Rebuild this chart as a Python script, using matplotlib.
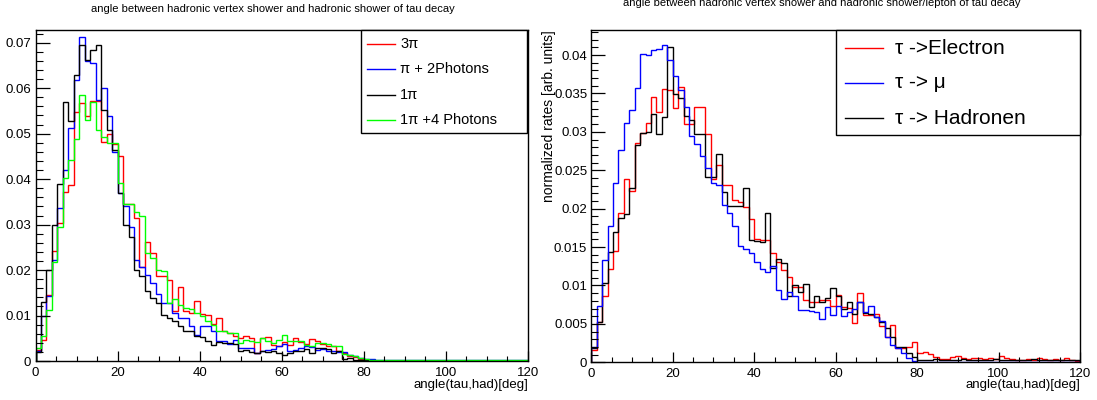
import numpy as np
import matplotlib
matplotlib.use('Agg')
import matplotlib.pyplot as plt
from matplotlib.ticker import MultipleLocator, FuncFormatter
from matplotlib.patches import Rectangle
from matplotlib.lines import Line2D

plt.rcParams['font.family'] = ['Liberation Sans', 'DejaVu Sans']

# ---------------- data ----------------
n_bins = 90
x_lo, x_hi = 0, 120

left_title = 'angle between hadronic vertex shower and hadronic shower of tau decay'
right_title = 'angle between hadronic vertex shower and hadronic shower/lepton of tau decay'
x_label = 'angle(tau,had)[deg]'
right_ylabel = 'normalized rates [arb. units]'

left_labels = ['3π', 'π + 2Photons', '1π', '1π +4 Photons']
left_colors = ['#ff0000', '#0000ff', '#000000', '#00ff00']

left_3pi = [
    0.0024, 0.0046, 0.0145, 0.0242, 0.0304, 0.0371, 0.0386, 0.0548, 0.0568, 0.0539,
    0.0572, 0.0572, 0.0482, 0.0500, 0.0478, 0.0451, 0.0345, 0.0345, 0.0314, 0.0207,
    0.0261, 0.0238, 0.0187, 0.0187, 0.0178, 0.0109, 0.0163, 0.0109, 0.0105, 0.0132,
    0.0103, 0.0101, 0.0081, 0.0094, 0.0067, 0.0061, 0.0054, 0.0050, 0.0054, 0.0050,
    0.0017, 0.0050, 0.0052, 0.0035, 0.0034, 0.0041, 0.0035, 0.0050, 0.0041, 0.0037,
    0.0048, 0.0044, 0.0037, 0.0034, 0.0032, 0.0021, 0.0017, 0.0011, 0.0008, 0.0004,
    0.0002, 0.0002, 0.0001, 0.0001, 0.0001, 0.0001, 0.0001, 0.0001, 0.0001, 0.0001,
    0.0001, 0.0001, 0.0001, 0.0001, 0.0001, 0.0001, 0.0001, 0.0001, 0.0001, 0.0001,
    0.0001, 0.0001, 0.0001, 0.0001, 0.0001, 0.0001, 0.0001, 0.0001, 0.0001, 0.0001]

left_pi_2photons = [
    0.0022, 0.0098, 0.0143, 0.0222, 0.0336, 0.0420, 0.0513, 0.0618, 0.0713, 0.0660,
    0.0656, 0.0574, 0.0600, 0.0539, 0.0459, 0.0369, 0.0340, 0.0295, 0.0222, 0.0206,
    0.0189, 0.0172, 0.0147, 0.0127, 0.0127, 0.0105, 0.0095, 0.0095, 0.0076, 0.0057,
    0.0076, 0.0076, 0.0065, 0.0043, 0.0043, 0.0037, 0.0046, 0.0029, 0.0028, 0.0028,
    0.0017, 0.0023, 0.0024, 0.0026, 0.0033, 0.0037, 0.0021, 0.0024, 0.0028, 0.0032,
    0.0030, 0.0024, 0.0026, 0.0023, 0.0021, 0.0019, 0.0019, 0.0013, 0.0010, 0.0006,
    0.0004, 0.0004, 0.0003, 0.0003, 0.0003, 0.0003, 0.0003, 0.0003, 0.0003, 0.0003,
    0.0003, 0.0003, 0.0003, 0.0003, 0.0003, 0.0003, 0.0003, 0.0003, 0.0003, 0.0003,
    0.0003, 0.0003, 0.0003, 0.0003, 0.0003, 0.0003, 0.0003, 0.0003, 0.0003, 0.0003]

left_1pi = [
    0.0020, 0.0130, 0.0200, 0.0300, 0.0390, 0.0569, 0.0528, 0.0630, 0.0696, 0.0662,
    0.0684, 0.0696, 0.0552, 0.0508, 0.0464, 0.0369, 0.0300, 0.0273, 0.0200, 0.0188,
    0.0155, 0.0138, 0.0127, 0.0101, 0.0095, 0.0087, 0.0076, 0.0065, 0.0065, 0.0054,
    0.0052, 0.0045, 0.0035, 0.0041, 0.0040, 0.0039, 0.0037, 0.0023, 0.0024, 0.0019,
    0.0017, 0.0021, 0.0019, 0.0021, 0.0018, 0.0013, 0.0018, 0.0021, 0.0022, 0.0026,
    0.0017, 0.0028, 0.0029, 0.0026, 0.0017, 0.0021, 0.0004, 0.0006, 0.0003, 0.0003,
    0.0002, 0.0001, 0.0001, 0.0001, 0.0001, 0.0001, 0.0001, 0.0001, 0.0001, 0.0001,
    0.0001, 0.0001, 0.0001, 0.0001, 0.0001, 0.0001, 0.0001, 0.0001, 0.0001, 0.0001,
    0.0001, 0.0001, 0.0001, 0.0001, 0.0001, 0.0001, 0.0001, 0.0001, 0.0001, 0.0001]

left_1pi_4photons = [
    0.0028, 0.0054, 0.0112, 0.0218, 0.0295, 0.0403, 0.0442, 0.0488, 0.0584, 0.0529,
    0.0570, 0.0508, 0.0493, 0.0479, 0.0479, 0.0392, 0.0345, 0.0345, 0.0328, 0.0319,
    0.0238, 0.0227, 0.0200, 0.0199, 0.0127, 0.0136, 0.0123, 0.0116, 0.0114, 0.0105,
    0.0098, 0.0088, 0.0079, 0.0066, 0.0066, 0.0062, 0.0062, 0.0039, 0.0046, 0.0043,
    0.0041, 0.0050, 0.0043, 0.0039, 0.0046, 0.0057, 0.0044, 0.0044, 0.0043, 0.0035,
    0.0034, 0.0039, 0.0039, 0.0037, 0.0034, 0.0034, 0.0015, 0.0013, 0.0010, 0.0006,
    0.0004, 0.0003, 0.0002, 0.0002, 0.0002, 0.0002, 0.0002, 0.0002, 0.0002, 0.0002,
    0.0002, 0.0002, 0.0002, 0.0002, 0.0002, 0.0002, 0.0002, 0.0002, 0.0002, 0.0002,
    0.0002, 0.0002, 0.0002, 0.0002, 0.0002, 0.0002, 0.0002, 0.0002, 0.0002, 0.0002]

right_labels = ['τ ->Electron', 'τ -> μ', 'τ -> Hadronen']
right_colors = ['#ff0000', '#0000ff', '#000000']

right_electron = [
    0.0016, 0.0053, 0.0086, 0.0122, 0.0145, 0.0195, 0.0239, 0.0223, 0.0285, 0.0299,
    0.0311, 0.0346, 0.0326, 0.0356, 0.0354, 0.0331, 0.0359, 0.0310, 0.0310, 0.0333,
    0.0333, 0.0297, 0.0238, 0.0257, 0.0231, 0.0231, 0.0211, 0.0209, 0.0202, 0.0186,
    0.0161, 0.0159, 0.0159, 0.0142, 0.0131, 0.0120, 0.0111, 0.0098, 0.0098, 0.0081,
    0.0079, 0.0079, 0.0081, 0.0081, 0.0073, 0.0088, 0.0072, 0.0071, 0.0051, 0.0090,
    0.0061, 0.0061, 0.0063, 0.0047, 0.0033, 0.0049, 0.0018, 0.0018, 0.0020, 0.0027,
    0.0012, 0.0013, 0.0011, 0.0007, 0.0004, 0.0004, 0.0007, 0.0008, 0.0005, 0.0004,
    0.0006, 0.0005, 0.0004, 0.0006, 0.0004, 0.0008, 0.0005, 0.0004, 0.0003, 0.0003,
    0.0004, 0.0003, 0.0006, 0.0004, 0.0003, 0.0004, 0.0003, 0.0006, 0.0003, 0.0002]

right_muon = [
    0.0020, 0.0073, 0.0133, 0.0178, 0.0233, 0.0276, 0.0311, 0.0328, 0.0357, 0.0401,
    0.0400, 0.0407, 0.0408, 0.0413, 0.0394, 0.0373, 0.0355, 0.0333, 0.0294, 0.0284,
    0.0268, 0.0253, 0.0233, 0.0231, 0.0205, 0.0194, 0.0177, 0.0151, 0.0148, 0.0142,
    0.0130, 0.0121, 0.0117, 0.0125, 0.0094, 0.0083, 0.0092, 0.0086, 0.0068, 0.0068,
    0.0067, 0.0065, 0.0057, 0.0072, 0.0062, 0.0073, 0.0060, 0.0066, 0.0070, 0.0079,
    0.0066, 0.0073, 0.0059, 0.0054, 0.0033, 0.0022, 0.0018, 0.0012, 0.0005, 0.0002,
    0.0001, 0.0001, 0.0001, 0.0001, 0.0001, 0.0001, 0.0001, 0.0001, 0.0001, 0.0001,
    0.0001, 0.0001, 0.0001, 0.0001, 0.0001, 0.0001, 0.0001, 0.0001, 0.0001, 0.0001,
    0.0001, 0.0001, 0.0001, 0.0001, 0.0001, 0.0001, 0.0001, 0.0001, 0.0001, 0.0001]

right_hadronen = [
    0.0018, 0.0053, 0.0103, 0.0144, 0.0170, 0.0188, 0.0193, 0.0227, 0.0283, 0.0298,
    0.0300, 0.0323, 0.0297, 0.0319, 0.0411, 0.0349, 0.0344, 0.0321, 0.0316, 0.0297,
    0.0297, 0.0241, 0.0241, 0.0271, 0.0222, 0.0203, 0.0203, 0.0203, 0.0227, 0.0159,
    0.0158, 0.0157, 0.0194, 0.0123, 0.0134, 0.0129, 0.0086, 0.0101, 0.0092, 0.0102,
    0.0072, 0.0086, 0.0079, 0.0084, 0.0097, 0.0086, 0.0070, 0.0078, 0.0063, 0.0078,
    0.0064, 0.0063, 0.0059, 0.0053, 0.0045, 0.0033, 0.0020, 0.0020, 0.0012, 0.0007,
    0.0003, 0.0003, 0.0003, 0.0004, 0.0003, 0.0003, 0.0003, 0.0003, 0.0004, 0.0003,
    0.0003, 0.0003, 0.0003, 0.0003, 0.0004, 0.0003, 0.0003, 0.0003, 0.0003, 0.0003,
    0.0003, 0.0004, 0.0003, 0.0003, 0.0003, 0.0003, 0.0003, 0.0003, 0.0003, 0.0003]

# ---------------- figure ----------------
W, H = 1097, 400
fig = plt.figure(figsize=(W / 100, H / 100), dpi=100)


def fx(px):
    return px / W


def fy(py):
    return 1 - py / H


def make_axes(left, right, top, bottom):
    return fig.add_axes([fx(left), fy(bottom), fx(right) - fx(left), fy(top) - fy(bottom)])


edges = np.linspace(x_lo, x_hi, n_bins + 1)
fmt = FuncFormatter(lambda v, p: ('%g' % round(v, 6)))


def style_axes(ax, ymax, ymajor, yminor):
    ax.set_xlim(x_lo, x_hi)
    ax.set_ylim(0, ymax)
    ax.xaxis.set_major_locator(MultipleLocator(20))
    ax.xaxis.set_minor_locator(MultipleLocator(5))
    ax.yaxis.set_major_locator(MultipleLocator(ymajor))
    ax.yaxis.set_minor_locator(MultipleLocator(yminor))
    ax.yaxis.set_major_formatter(fmt)
    ax.xaxis.set_major_formatter(fmt)
    ax.tick_params(axis='both', which='both', direction='in', top=False, right=False,
                   labelsize=9.5, colors='black')
    ax.tick_params(axis='y', which='major', length=10, width=0.9, pad=3)
    ax.tick_params(axis='y', which='minor', length=5, width=0.8)
    ax.tick_params(axis='x', which='major', length=7, width=0.9, pad=4)
    ax.tick_params(axis='x', which='minor', length=3.5, width=0.8)
    for s in ax.spines.values():
        s.set_linewidth(1.0)
        s.set_color('black')


def draw_legend(box, entries, line_x, text_x, ys, fontsize):
    l, t, r, b = box
    fig.patches.append(Rectangle((fx(l), fy(b)), fx(r) - fx(l), fy(t) - fy(b),
                                 transform=fig.transFigure, facecolor='white',
                                 edgecolor='black', linewidth=1.0, zorder=5))
    for (lab, col), y in zip(entries, ys):
        fig.lines.append(Line2D([fx(line_x[0]), fx(line_x[1])], [fy(y), fy(y)],
                                transform=fig.transFigure, color=col, lw=1.0, zorder=6))
        fig.text(fx(text_x), fy(y), lab, ha='left', va='center', fontsize=fontsize,
                 zorder=6)


# ---- left panel ----
axL = make_axes(35.5, 528, 30, 361)
for vals, col in zip([left_3pi, left_pi_2photons, left_1pi, left_1pi_4photons], left_colors):
    axL.stairs(vals, edges, color=col, lw=1.0)
style_axes(axL, 0.0728, 0.01, 0.002)
fig.text(fx(273), fy(9), left_title, ha='center', va='center', fontsize=8)
fig.text(fx(528), fy(385), x_label, ha='right', va='center', fontsize=9.5)
draw_legend((361, 30, 527, 133), list(zip(left_labels, left_colors)),
            (367, 395), 400, [44, 69, 95, 120], 10.5)

# ---- right panel ----
axR = make_axes(591.3, 1080, 30, 362.3)
for vals, col in zip([right_electron, right_hadronen, right_muon],
                     [right_colors[0], right_colors[2], right_colors[1]]):
    axR.stairs(vals, edges, color=col, lw=1.0)
style_axes(axR, 0.04326, 0.005, 0.001)
fig.text(fx(822), fy(3), right_title, ha='center', va='center', fontsize=8)
fig.text(fx(1080), fy(385), x_label, ha='right', va='center', fontsize=9.5)
fig.text(fx(549), fy(30), right_ylabel, ha='center', va='top', rotation=90, fontsize=10)
draw_legend((836, 30, 1080, 135), list(zip(right_labels, right_colors)),
            (845, 883), 895, [48, 83, 118], 15)

fig.savefig('out.png', dpi=100, facecolor='white')
